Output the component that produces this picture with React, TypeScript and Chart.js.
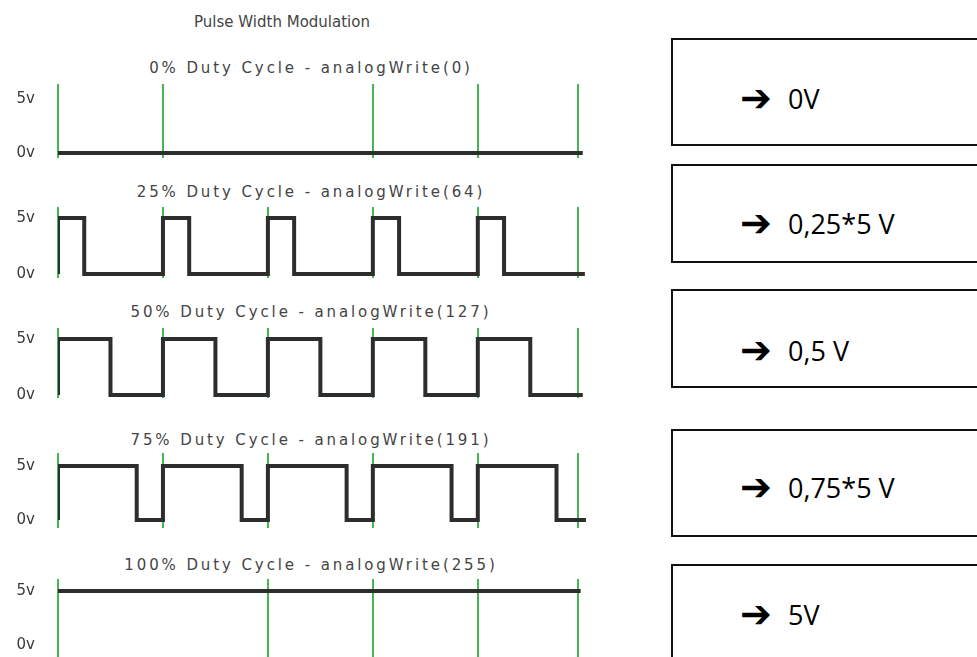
import React, { useEffect, useRef } from "react";
import { Chart, registerables } from "chart.js";

Chart.register(...registerables);

// ---- data ----
const periodTicks = [0, 1, 2, 3, 4, 4.95];
const voltTicks = [0, 5];
const voltLabels = ["0v", "5v"];

const duty0X = [0, 5.0];
const duty0Y = [0, 0];
const duty25X = [0, 0, 0.25, 1, 1.25, 2, 2.25, 3, 3.25, 4, 4.25, 5.02];
const duty25Y = [0, 5, 0, 5, 0, 5, 0, 5, 0, 5, 0, 0];
const duty50X = [0, 0, 0.5, 1, 1.5, 2, 2.5, 3, 3.5, 4, 4.5, 5.0];
const duty50Y = [0, 5, 0, 5, 0, 5, 0, 5, 0, 5, 0, 0];
const duty75X = [0, 0, 0.75, 1, 1.75, 2, 2.75, 3, 3.75, 4, 4.75, 5.03];
const duty75Y = [0, 5, 0, 5, 0, 5, 0, 5, 0, 5, 0, 0];
const duty100X = [0, 4.98];
const duty100Y = [5, 5];

const mainTitle = "Pulse Width Modulation";
const stripTitles = [
  "0% Duty Cycle - analogWrite(0)",
  "25% Duty Cycle - analogWrite(64)",
  "50% Duty Cycle - analogWrite(127)",
  "75% Duty Cycle - analogWrite(191)",
  "100% Duty Cycle - analogWrite(255)",
];
const boxTexts = ["0V", "0,25*5 V", "0,5 V", "0,75*5 V", "5V"];

const grid0Shown = [true, true, false, true, true, true];
const gridAllShown = [true, true, true, true, true, true];
const grid100Shown = [true, false, true, true, true, true];

// ---- layout / style ----
const GREEN = "rgb(70,182,82)";
const WAVE = "#2d2d2d";
const PAD = 12;

const strips = [
  { xs: duty0X, ys: duty0Y, shown: grid0Shown, top: 84, h: 74, yMin: -0.46, yMax: 6.4, titleY: 68 },
  { xs: duty25X, ys: duty25Y, shown: gridAllShown, top: 207, h: 71, yMin: -0.36, yMax: 5.98, titleY: 192 },
  { xs: duty50X, ys: duty50Y, shown: gridAllShown, top: 328, h: 70, yMin: -0.27, yMax: 5.98, titleY: 312 },
  { xs: duty75X, ys: duty75Y, shown: gridAllShown, top: 453, h: 75, yMin: -0.74, yMax: 6.2, titleY: 440 },
  { xs: duty100X, ys: duty100Y, shown: grid100Shown, top: 579, h: 78, yMin: -1.1, yMax: 6.1, titleY: 565 },
];

const boxes = [
  { top: 38, h: 108, textY: 98 },
  { top: 164, h: 99, textY: 223 },
  { top: 289, h: 99, textY: 350 },
  { top: 429, h: 108, textY: 487 },
  { top: 564, h: 110, textY: 614 },
];

function Strip(props: any) {
  const { xs, ys, shown, top, h, yMin, yMax } = props;
  const ref = useRef<HTMLCanvasElement | null>(null);
  useEffect(() => {
    if (!ref.current) return;
    const chart = new Chart(ref.current, {
      type: "line",
      data: {
        datasets: [
          {
            data: xs.map((x: number, i: number) => ({ x, y: ys[i] })),
            borderColor: WAVE,
            borderWidth: 4,
            pointRadius: 0,
            stepped: true,
            fill: false,
            borderJoinStyle: "miter",
            borderCapStyle: "butt",
          } as any,
        ],
      },
      options: {
        animation: false,
        responsive: false,
        devicePixelRatio: 1,
        layout: { padding: { left: 0, right: 12, top: PAD, bottom: PAD } },
        plugins: {
          legend: { display: false },
          tooltip: { enabled: false },
          title: { display: false },
        },
        scales: {
          x: {
            type: "linear",
            min: 0,
            max: 5.05,
            afterBuildTicks: (s: any) => {
              s.ticks = periodTicks.map((v) => ({ value: v }));
            },
            afterFit: (s: any) => {
              s.height = 0;
              s.paddingLeft = 0;
              s.paddingRight = 0;
            },
            ticks: { display: false },
            grid: {
              drawTicks: false,
              lineWidth: 2,
              color: shown.map((v: boolean) => (v ? GREEN : "rgba(0,0,0,0)")),
            },
            border: { display: false },
          },
          y: {
            type: "linear",
            min: yMin,
            max: yMax,
            afterBuildTicks: (s: any) => {
              s.ticks = voltTicks.map((v) => ({ value: v }));
            },
            afterFit: (s: any) => {
              s.width = 58;
              s.paddingTop = 0;
              s.paddingBottom = 0;
            },
            ticks: {
              padding: 23,
              color: "#3a3a3a",
              font: { family: "DejaVu Sans", size: 15 },
              callback: (v: any) => voltLabels[voltTicks.indexOf(v)],
            },
            grid: { display: false, drawTicks: false },
            border: { display: false },
          },
        },
      } as any,
    });
    return () => chart.destroy();
  }, []);
  return (
    <canvas
      ref={ref}
      width={600}
      height={h + 2 * PAD}
      style={{ position: "absolute", left: 0, top: top - PAD, width: 600, height: h + 2 * PAD }}
    />
  );
}

export default function App() {
  return (
    <div
      style={{
        position: "absolute",
        left: 0,
        top: 0,
        width: 977,
        height: 657,
        overflow: "hidden",
        background: "#fff",
      }}
    >
      <div
        style={{
          position: "absolute",
          left: 282,
          top: 22 - 9,
          transform: "translateX(-50%)",
          whiteSpace: "nowrap",
          font: "15px 'DejaVu Sans'",
          lineHeight: "18px",
          color: "#444",
        }}
      >
        {mainTitle}
      </div>
      {strips.map((s, i) => (
        <React.Fragment key={i}>
          <div
            style={{
              position: "absolute",
              left: 311,
              top: s.titleY - 9,
              transform: "translateX(-50%)",
              whiteSpace: "nowrap",
              font: "15px 'DejaVu Sans'",
              lineHeight: "18px",
              letterSpacing: "2.9px",
              color: "#444",
            }}
          >
            {stripTitles[i]}
          </div>
          <Strip {...s} />
        </React.Fragment>
      ))}
      {boxes.map((b, i) => (
        <div
          key={i}
          style={{
            position: "absolute",
            left: 671,
            top: b.top,
            width: 330,
            height: b.h,
            border: "2px solid #111",
            boxSizing: "border-box",
          }}
        >
          <span
            style={{
              position: "absolute",
              left: 740 - 673,
              top: b.textY - b.top - 2,
              transform: "translateY(-50%)",
              font: "bold 38px 'DejaVu Sans'",
              lineHeight: 1,
              color: "#000",
            }}
          >
            ➔
          </span>
          <span
            style={{
              position: "absolute",
              left: 788 - 673,
              top: b.textY - b.top - 2,
              transform: "translateY(-50%)",
              font: "27px 'Open Sans'",
              lineHeight: 1,
              color: "#000",
              whiteSpace: "nowrap",
            }}
          >
            {boxTexts[i]}
          </span>
        </div>
      ))}
    </div>
  );
}
